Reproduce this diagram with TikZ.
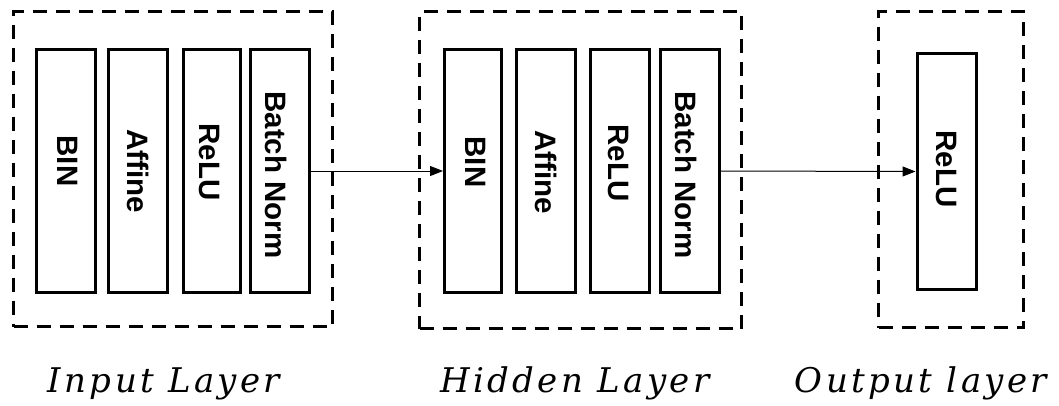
\documentclass[tikz,border=0pt]{standalone}
\usepackage{fontspec}
\setmainfont{Liberation Serif}
\newfontfamily\boxfont{Liberation Sans}
\newfontfamily\labfont[LetterSpace=10]{DejaVu Serif}
\usetikzlibrary{arrows.meta}
\begin{document}
\begin{tikzpicture}[x=1pt,y=-1pt,
  layerbox/.style={draw, line width=3pt, dash pattern=on 14pt off 9pt, inner sep=0pt},
  unitbox/.style={draw, line width=3pt, minimum width=59pt, minimum height=243pt, inner sep=0pt},
  unittext/.style={font=\boxfont\bfseries\fontsize{29.5}{32}\selectfont, rotate=-90, inner sep=0pt},
  lab/.style={font=\labfont\itshape\fontsize{34}{40}\selectfont, anchor=base},
  conn/.style={-{Triangle[length=13pt,width=10pt]}, line width=1pt}]
\useasboundingbox (0,0) rectangle (1059,405);
% layer frames
\node[layerbox, minimum width=319pt, minimum height=315pt] (L1) at (173,169) {};
\node[layerbox, minimum width=322pt, minimum height=317pt] (L2) at (580.5,170) {};
\node[layerbox, minimum width=145pt, minimum height=316pt] (L3) at (951,169.5) {};
% input layer units
\node[unitbox] (bin1) at (66,171) {};
\node[unitbox] (aff1) at (138,171) {};
\node[unitbox, minimum width=57pt] (relu1) at (212,171) {};
\node[unitbox] (bn1) at (280,171) {};
\node[unittext] (tbin1) at (68,161) {BIN};
\node[unittext] (taff1) at (138,171) {Affine};
\node[unittext] (trelu1) at (210,162) {ReLU};
\node[unittext] (tbn1) at (276,175) {Batch Norm};
% hidden layer units
\node[unitbox, minimum width=57pt] (bin2) at (473,171) {};
\node[unitbox] (aff2) at (545.5,171) {};
\node[unitbox] (relu2) at (619.5,171) {};
\node[unitbox] (bn2) at (689.5,171) {};
\node[unittext] (tbin2) at (476,162) {BIN};
\node[unittext] (taff2) at (546,172) {Affine};
\node[unittext] (trelu2) at (618,163) {ReLU};
\node[unittext] (tbn2) at (686,175) {Batch Norm};
% output layer unit
\node[unitbox, minimum height=236pt] (relu3) at (946.5,171.5) {};
\node[unittext] (trelu3) at (946,169) {ReLU};
% connectors
\draw[conn] (bn1.east) -- (bin2.west);
\draw[conn] (bn2.east) -- (relu3.west);
% captions
\node[lab] (c1) at (164,392) {Input Layer};
\node[lab] (c2) at (575,392) {Hidden Layer};
\node[lab] (c3) at (921,392) {Output layer};
\end{tikzpicture}
\end{document}
